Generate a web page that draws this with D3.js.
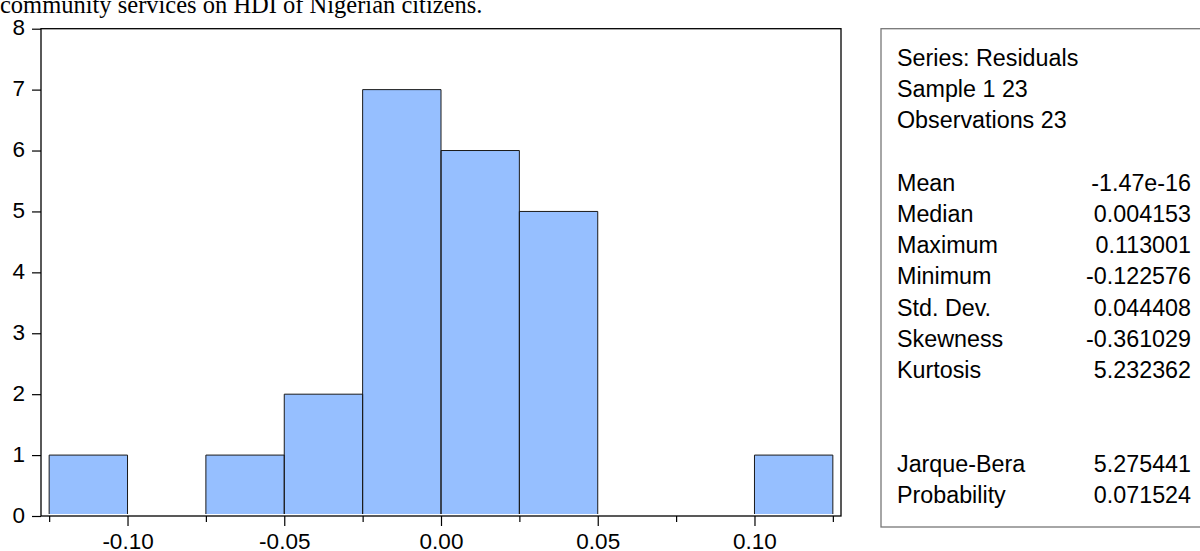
<!DOCTYPE html>
<html>
<head>
<meta charset="utf-8">
<script src="https://cdn.jsdelivr.net/npm/d3@7"></script>
<style>
  html, body { margin: 0; padding: 0; background: #fff; overflow: hidden; }
  svg { display: block; }
</style>
</head>
<body>
<svg id="chart" width="1200" height="551"></svg>
<script>
// ---- data ----
const titleText = "community services on HDI of Nigerian citizens.";
const binStarts = [-0.125, -0.100, -0.075, -0.050, -0.025, 0.000, 0.025, 0.050, 0.075, 0.100];
const binWidth = 0.025;
const counts = [1, 0, 1, 2, 7, 6, 5, 0, 0, 1];
const majorXTicks = [-0.10, -0.05, 0.00, 0.05, 0.10];
const minorXTicks = [-0.125, -0.075, -0.025, 0.025, 0.075, 0.125];
const yTicks = [0, 1, 2, 3, 4, 5, 6, 7, 8];
const statsHeader = ["Series: Residuals", "Sample 1 23", "Observations 23"];
const statsNames = ["Mean", "Median", "Maximum", "Minimum", "Std. Dev.", "Skewness", "Kurtosis"];
const statsValues = ["-1.47e-16", "0.004153", "0.113001", "-0.122576", "0.044408", "-0.361029", "5.232362"];
const testNames = ["Jarque-Bera", "Probability"];
const testValues = ["5.275441", "0.071524"];

// ---- layout ----
const svg = d3.select("#chart");
const L = 41, R = 841, T = 28.7, B = 516;
const x = d3.scaleLinear().domain([-0.1276, 0.1276]).range([L, R]);
const y = d3.scaleLinear().domain([0, 8]).range([B, T]);
const font = "'Liberation Sans', Arial, sans-serif";
const loc = d3.formatLocale({ decimal: ".", thousands: ",", grouping: [3], currency: ["", ""], minus: "-" });

// title (clipped at top)
svg.append("text")
  .attr("x", 0).attr("y", 13)
  .attr("font-family", "'Liberation Serif', 'Times New Roman', serif")
  .attr("font-size", 24.5).attr("fill", "#000")
  .text(titleText);

// bars
const bars = binStarts.map((s, i) => ({ x0: s, x1: s + binWidth, n: counts[i] })).filter(d => d.n > 0);
const g = svg.append("g");
g.selectAll("rect.bar").data(bars).enter().append("rect")
  .attr("class", "bar")
  .attr("x", d => x(d.x0))
  .attr("y", d => y(d.n))
  .attr("width", d => x(d.x1) - x(d.x0))
  .attr("height", d => y(0) - 2 - y(d.n))
  .attr("fill", "#96bfff");
g.selectAll("path.edge").data(bars).enter().append("path")
  .attr("class", "edge")
  .attr("d", d => `M${x(d.x0)},${y(0) - 2}V${y(d.n)}H${x(d.x1)}V${y(0) - 2}`)
  .attr("fill", "none").attr("stroke", "#1a1a1a").attr("stroke-width", 1);

// frame
svg.append("rect")
  .attr("x", L).attr("y", T).attr("width", R - L).attr("height", B - T)
  .attr("fill", "none").attr("stroke", "#000").attr("stroke-width", 1.3);

// x axis
const xAxis = d3.axisBottom(x).tickValues(majorXTicks).tickSize(10).tickSizeOuter(0)
  .tickFormat(loc.format(".2f"));
const xg = svg.append("g").attr("transform", `translate(0,${B})`).call(xAxis);
xg.select(".domain").remove();
xg.selectAll(".tick line").attr("stroke", "#000").attr("stroke-width", 1.2);
xg.selectAll(".tick text").attr("font-family", font).attr("font-size", 22.5)
  .attr("fill", "#000").attr("y", 33).attr("dy", 0);
const xMinor = d3.axisBottom(x).tickValues(minorXTicks).tickSize(6).tickSizeOuter(0).tickFormat("");
const xmg = svg.append("g").attr("transform", `translate(0,${B})`).call(xMinor);
xmg.select(".domain").remove();
xmg.selectAll(".tick line").attr("stroke", "#000").attr("stroke-width", 1.2);

// y axis
const yAxis = d3.axisLeft(y).tickValues(yTicks).tickSize(9).tickSizeOuter(0).tickFormat(loc.format("d"));
const yg = svg.append("g").attr("transform", `translate(${L},0)`).call(yAxis);
yg.select(".domain").remove();
yg.selectAll(".tick line").attr("stroke", "#000").attr("stroke-width", 1.2);
yg.selectAll(".tick text").attr("font-family", font).attr("font-size", 22.5)
  .attr("fill", "#000").attr("x", -16).attr("dy", 6);

// stats box
const bx = 881, by = 28.7, bb = 527;
svg.append("rect")
  .attr("x", bx).attr("y", by).attr("width", 1210 - bx).attr("height", bb - by)
  .attr("fill", "#fff").attr("stroke", "#777").attr("stroke-width", 1.3);

const tx = 897, vx = 1191, lh = 31.2;
const st = svg.append("g").attr("font-family", font).attr("font-size", 23.3).attr("fill", "#000");
const y0 = 66;
statsHeader.forEach((s, i) => {
  st.append("text").attr("x", tx).attr("y", y0 + i * lh).text(s);
});
statsNames.forEach((s, i) => {
  const yy = y0 + (statsHeader.length + 1 + i) * lh;
  st.append("text").attr("x", tx).attr("y", yy).text(s);
  st.append("text").attr("x", vx).attr("y", yy).attr("text-anchor", "end").text(statsValues[i]);
});
testNames.forEach((s, i) => {
  const yy = y0 + (statsHeader.length + 1 + statsNames.length + 2 + i) * lh;
  st.append("text").attr("x", tx).attr("y", yy).text(s);
  st.append("text").attr("x", vx).attr("y", yy).attr("text-anchor", "end").text(testValues[i]);
});
</script>
</body>
</html>
